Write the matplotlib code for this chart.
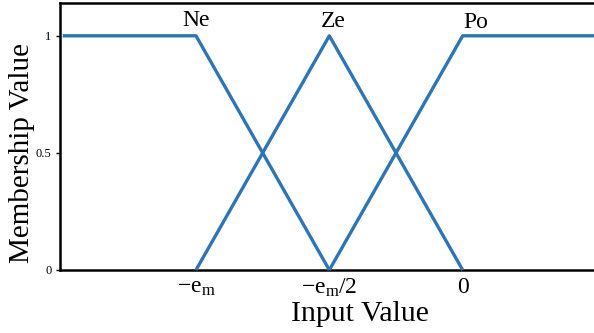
import matplotlib
matplotlib.use("Agg")
import matplotlib.pyplot as plt

plt.rcParams['font.family'] = ['Liberation Serif', 'DejaVu Serif']
plt.rcParams['mathtext.fontset'] = 'custom'
plt.rcParams['mathtext.rm'] = 'Liberation Serif'
plt.rcParams['mathtext.it'] = 'Liberation Serif:italic'

# Data
ne_x = [-1.5, -1.0, -0.5]
ne_y = [1, 1, 0]
ze_x = [-1.0, -0.5, 0.0]
ze_y = [0, 1, 0]
po_x = [-0.5, 0.0, 0.5]
po_y = [0, 1, 1]
set_names = ["Ne", "Ze", "Po"]
set_peaks = [-1.0, -0.5, 0.0]
xtick_vals = [-1.0, -0.5, 0.0]
xtick_labels = [r'$-\mathrm{e}_\mathrm{m}$', r'$-\mathrm{e}_\mathrm{m}/2$', '0']
ytick_vals = [0, 0.5, 1]
ytick_labels = ['0', '0.5', '1']

fig = plt.figure(figsize=(5.94, 3.33), dpi=100)
ax = fig.add_axes([60/594, 1-270/333, 536/594, 267/333])

color = '#2E75B6'
for xs, ys in [(ne_x, ne_y), (ze_x, ze_y), (po_x, po_y)]:
    ax.plot(xs, ys, color=color, lw=2.4, solid_capstyle='butt', clip_on=False, zorder=3)

ax.set_xlim(-1.51, 0.5)
ax.set_ylim(0, 1.14)

ax.text(set_peaks[0], 1.02, set_names[0], ha='center', va='bottom', fontsize=17)
ax.text(set_peaks[1] + 0.015, 1.015, set_names[1], ha='center', va='bottom', fontsize=17)
ax.text(set_peaks[2] + 0.003, 1.012, set_names[2], ha='left', va='bottom', fontsize=17)

ax.set_xticks(xtick_vals)
ax.set_xticklabels(xtick_labels, fontsize=17)
ax.set_yticks(ytick_vals)
ax.set_yticklabels(ytick_labels, fontsize=9)
ax.tick_params(axis='x', length=0, pad=5)
ax.tick_params(axis='y', length=3, width=1, pad=3, direction='out')

for s in ax.spines.values():
    s.set_linewidth(1.8)
    s.set_color('black')

ax.set_xlabel('Input Value', fontsize=21.5)
ax.set_ylabel('Membership Value', fontsize=21)
ax.xaxis.set_label_coords((360-60)/536, -0.115)
ax.yaxis.set_label_coords(-0.046, 0.44)

fig.savefig('out.png', dpi=100)
